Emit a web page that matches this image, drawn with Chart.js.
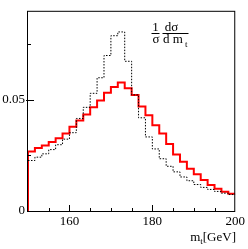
<!DOCTYPE html>
<html>
<head>
<meta charset="utf-8">
<script src="https://cdn.jsdelivr.net/npm/chart.js@4/dist/chart.umd.min.js"></script>
<style>
html,body{margin:0;padding:0;background:#fff;}
#wrap{position:relative;width:248px;height:249px;}
canvas{display:block;}
</style>
</head>
<body>
<div id="wrap"><canvas id="c" width="248" height="249"></canvas></div>
<script>
// Histogram binning (x axis, GeV)
const binLow = 150;
const binHigh = 200;
const nBins = 30;
// Red solid histogram: 1/sigma dsigma/dm_t per bin
const redValues = [0.0268,0.0283,0.0295,0.0310,0.0327,0.0348,0.0379,0.0407,0.0434,0.0466,
                   0.0497,0.0532,0.0558,0.0578,0.0552,0.0522,0.0470,0.0431,0.0386,0.0348,
                   0.0301,0.0254,0.0221,0.0190,0.0165,0.0139,0.0117,0.0100,0.0087,0.0077];
// Black dotted histogram
const blackValues = [0.0227,0.0242,0.0257,0.0276,0.0298,0.0323,0.0352,0.0416,0.0466,0.0529,
                     0.0599,0.0699,0.0788,0.0805,0.0673,0.0522,0.0419,0.0333,0.0279,0.0235,
                     0.0201,0.0176,0.0153,0.0136,0.0119,0.0106,0.0097,0.0088,0.0080,0.0074];
const xTickLabels = [160,180,200];
const yTickLabels = [0,0.05];

const binW = (binHigh - binLow) / nBins;
function histPoints(vals, fromZero){
  const pts = [];
  if (fromZero) pts.push({x: binLow, y: 0});
  vals.forEach((v,i)=>pts.push({x: binLow + i*binW, y: v}));
  pts.push({x: binHigh, y: vals[vals.length-1]});
  return pts;
}

const FONT = 'Liberation Serif';

const framePlugin = {
  id: 'frame',
  afterDraw(chart){
    const {ctx, chartArea:a, scales:{x, y}} = chart;
    ctx.save();
    ctx.strokeStyle = '#000';
    ctx.lineWidth = 1;
    ctx.strokeRect(a.left - 0.5, a.top + 0.5, a.right - a.left, a.bottom - a.top);
    // inner tick marks
    ctx.beginPath();
    for (let v = 155; v < binHigh; v += 5){
      const px = Math.round(x.getPixelForValue(v)) + 0.5;
      const len = xTickLabels.includes(v) ? 6 : 3;
      ctx.moveTo(px, a.bottom); ctx.lineTo(px, a.bottom - len);
    }
    [0.025,0.05,0.075].forEach(v=>{
      const py = Math.round(y.getPixelForValue(v)) + 0.5;
      const major = Math.abs(v-0.05) < 1e-9;
      ctx.moveTo(a.left - (major?2:1), py); ctx.lineTo(a.left + (major?6:3), py);
    });
    ctx.stroke();

    // formula annotation 1/sigma dsigma/dm_t
    ctx.fillStyle = '#000';
    ctx.font = '13px "' + FONT + '"';
    ctx.textAlign = 'center';
    ctx.textBaseline = 'alphabetic';
    ctx.fillText('1', 155.5, 31);
    ctx.fillText('σ', 156, 42.5);
    ctx.fillText('dσ', 171.5, 31);
    ctx.textAlign = 'left';
    ctx.fillText('d m', 163, 43);
    ctx.font = '9px "' + FONT + '"';
    ctx.fillText('t', 185, 47);
    ctx.beginPath();
    ctx.moveTo(151.5, 33.5); ctx.lineTo(159.5, 33.5);
    ctx.moveTo(162.5, 33.5); ctx.lineTo(188.5, 33.5);
    ctx.stroke();

    // axis title m_t[GeV]
    ctx.font = '13px "' + FONT + '"';
    ctx.textAlign = 'right';
    const tail = '[GeV]';
    const wTail = ctx.measureText(tail).width;
    ctx.fillText(tail, 236, 241);
    ctx.font = '9px "' + FONT + '"';
    ctx.fillText('t', 236 - wTail, 244);
    const wt = ctx.measureText('t').width;
    ctx.font = '13px "' + FONT + '"';
    ctx.fillText('m', 236 - wTail - wt, 241);
    ctx.restore();
  }
};

new Chart(document.getElementById('c'), {
  type: 'line',
  data: {
    datasets: [
      {
        data: histPoints(blackValues, false),
        borderColor: '#000',
        borderWidth: 1,
        borderDash: [1.5,1.5],
        stepped: 'before',
        pointRadius: 0,
        fill: false
      },
      {
        data: histPoints(redValues, true),
        borderColor: '#ff0000',
        borderWidth: 2,
        stepped: 'before',
        pointRadius: 0,
        fill: false
      }
    ]
  },
  options: {
    responsive: false,
    animation: false,
    devicePixelRatio: 1,
    layout: {padding: {left: 0, top: 7, right: 12, bottom: 0}},
    plugins: {legend: {display: false}, tooltip: {enabled: false}},
    scales: {
      x: {
        type: 'linear', min: binLow, max: binHigh,
        grid: {display: false, drawTicks: false},
        border: {display: false},
        ticks: {
          stepSize: 5, autoSkip: false, maxRotation: 0, padding: 3,
          color: '#000', font: {family: FONT, size: 13},
          callback: v => xTickLabels.includes(v) ? String(v) : ''
        },
        afterFit: s => { s.height = 38; }
      },
      y: {
        type: 'linear', min: 0, max: 0.09,
        grid: {display: false, drawTicks: false},
        border: {display: false},
        ticks: {
          stepSize: 0.025, includeBounds: false, padding: 3,
          color: '#000', font: {family: FONT, size: 13},
          callback: v => {
            const t = yTickLabels.find(l => Math.abs(l - v) < 1e-9);
            return t === undefined ? '' : String(t);
          }
        },
        afterFit: s => { s.width = 28; }
      }
    }
  },
  plugins: [framePlugin]
});
</script>
</body>
</html>
